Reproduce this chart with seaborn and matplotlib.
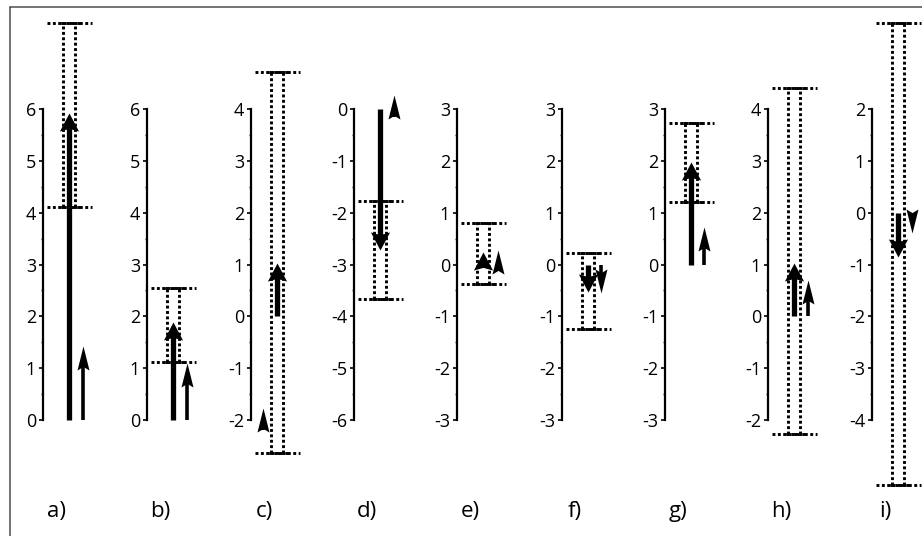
import numpy as np
import matplotlib
matplotlib.use("Agg")
import matplotlib.pyplot as plt
from matplotlib.path import Path
from matplotlib.lines import Line2D
from matplotlib.ticker import MultipleLocator
import seaborn as sns

# ---------------- data ----------------
panel_labels = ["a)", "b)", "c)", "d)", "e)", "f)", "g)", "h)", "i)"]
y_min = [0, 0, -2, -6, -3, -3, -3, -2, -4]
y_max = [6, 6, 4, 0, 3, 3, 3, 4, 2]
thick_start = [0, 0, 0, 0, 0, 0, 0, 0, 0]
thick_end = [5.92, 1.89, 1.03, -2.72, 0.24, -0.53, 1.98, 1.03, -0.86]
thin_start = [0, 0, -2.2, -0.15, -0.13, 0, 0, 0, 0]
thin_end = [1.42, 1.10, -1.77, 0.27, 0.28, -0.55, 0.72, 0.70, -0.39]
err_low = [4.11, 1.12, -2.64, -3.67, -0.38, -1.25, 1.20, -2.27, -5.26]
err_high = [7.66, 2.54, 4.71, -1.78, 0.80, 0.22, 2.73, 4.41, 3.66]

# ---------------- layout / style ----------------
W, H, DPI = 922, 536, 100
SPINE_X = [43, 147, 251, 354, 457, 562, 665, 768, 872]
THIN_OFFSET = [40, 40, 12, 40, 41, 39, 39, 40, 40]
AX_TOP, AX_BOT, AX_W = 109, 420, 60
X_MAIN = 26
ERR_DX = 6
CAP_L, CAP_R = 4, 49
CAP_ML, CAP_MR = 15, 39

sns.set_theme(style="ticks")
plt.rcParams["font.family"] = ["Open Sans", "DejaVu Sans"]
plt.rcParams["axes.unicode_minus"] = False

fig = plt.figure(figsize=(W / DPI, H / DPI), dpi=DPI)
fig.patch.set_facecolor("white")


def head_path(half_w, notch, up=True):
    s = 1 if up else -1
    verts = [(0, 0), (half_w, -s), (0, -s * notch), (-half_w, -s), (0, 0)]
    codes = [Path.MOVETO, Path.LINETO, Path.LINETO, Path.LINETO, Path.CLOSEPOLY]
    return Path(verts, codes)


THICK_MS, THIN_MS = 26, 34.6          # marker sizes (pt); head length = ms/2
THICK_LW, THIN_LW = 3.8, 2.6
DOT_LW = 2.1
DOT = (0, (1, 0.85))
DOT_SHIFT = (0.92, (1, 0.85))

ax_h_pt = (AX_BOT - AX_TOP) / DPI * 72


def draw_arrow(ax, x, y0, y1, ms, lw, half_w, notch, units_per_pt):
    up = y1 >= y0
    head_len_pt = ms / 2
    length_pt = abs(y1 - y0) / units_per_pt
    shrink = 0.8 * head_len_pt
    if length_pt > shrink + 1:
        sgn = 1 if up else -1
        yend = y1 - sgn * shrink * units_per_pt
        ax.plot([x, x], [y0, yend], color="black", lw=lw,
                solid_capstyle="butt", clip_on=False, zorder=4)
    ax.plot([x], [y1], marker=head_path(half_w, notch, up), ms=ms,
            mew=0, color="black", linestyle="none", clip_on=False, zorder=5)


for i in range(9):
    left = SPINE_X[i] / W
    bottom = (H - AX_BOT) / H
    ax = fig.add_axes([left, bottom, AX_W / W, (AX_BOT - AX_TOP) / H])
    ax.patch.set_visible(False)
    ax.set_xlim(0, AX_W)
    ax.set_ylim(y_min[i], y_max[i])
    units_per_pt = (y_max[i] - y_min[i]) / ax_h_pt

    sns.despine(ax=ax, top=True, right=True, bottom=True)
    ax.spines["left"].set_linewidth(1.6)
    ax.spines["left"].set_color("black")
    ax.set_xticks([])
    ax.set_yticks(np.arange(y_min[i], y_max[i] + 1))
    ax.yaxis.set_minor_locator(MultipleLocator(0.5))
    ax.tick_params(axis="y", which="major", length=3, width=1.2,
                   direction="out", labelsize=13, pad=2, colors="black")
    ax.tick_params(axis="y", which="minor", length=1.5, width=1.0,
                   direction="out")
    ax.grid(False)

    # error bar (dotted)
    for dx in (-ERR_DX, ERR_DX):
        ax.plot([X_MAIN + dx, X_MAIN + dx], [err_low[i], err_high[i]],
                color="black", lw=DOT_LW, linestyle=DOT,
                dash_capstyle="butt", clip_on=False, zorder=3)
    for v in (err_low[i], err_high[i]):
        ax.plot([CAP_L, CAP_R], [v, v], color="black", lw=DOT_LW,
                linestyle=DOT, dash_capstyle="butt", clip_on=False, zorder=3)
        ax.plot([CAP_ML, CAP_MR], [v, v], color="black", lw=DOT_LW,
                linestyle=DOT_SHIFT, dash_capstyle="butt", clip_on=False, zorder=3)

    draw_arrow(ax, X_MAIN, thick_start[i], thick_end[i], THICK_MS, THICK_LW,
               0.53, 0.85, units_per_pt)
    draw_arrow(ax, THIN_OFFSET[i], thin_start[i], thin_end[i], THIN_MS, THIN_LW,
               0.25, 0.85, units_per_pt)

    fig.text((SPINE_X[i] + 13) / W, 1 - 512 / H, panel_labels[i],
             ha="center", va="center", fontsize=16, color="black")

# cropped frame
fx = 10 / W
fy = 1 - 7 / H
fig.add_artist(Line2D([fx, fx], [0, fy], transform=fig.transFigure,
                      color="#4d4d4d", lw=1.1))
fig.add_artist(Line2D([fx, 1], [fy, fy], transform=fig.transFigure,
                      color="#4d4d4d", lw=1.1))

fig.savefig("out.png", dpi=DPI)
